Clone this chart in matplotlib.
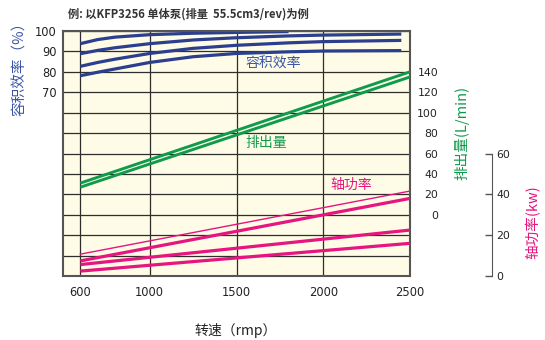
import matplotlib
matplotlib.use("Agg")
import matplotlib.pyplot as plt

plt.rcParams['font.family'] = ['DejaVu Sans', 'Noto Sans CJK SC']
CJK = ['Noto Sans CJK SC', 'DejaVu Sans']

# volumetric efficiency curves (%)
eff_rpm_a = [600, 700, 800, 1000, 1250, 1500, 1800]
eff_a = [93.8, 95.8, 97.0, 98.2, 98.9, 99.3, 99.7]
eff_rpm = [600, 700, 800, 1000, 1250, 1500, 1800, 2000, 2450]
eff_b = [88.9, 90.5, 91.8, 93.8, 95.6, 96.7, 97.6, 98.0, 98.5]
eff_c = [82.7, 84.6, 86.2, 89.0, 91.5, 93.0, 94.2, 94.8, 95.4]
eff_d = [78.1, 79.8, 81.4, 84.6, 87.4, 89.0, 89.8, 90.2, 90.4]

# flow (L/min)
flow_rpm = [600, 2500]
flow_hi = [31, 140]
flow_lo = [27, 135]

# shaft power (kW)
pow_rpm = [600, 2500]
pow_thin = [10.7, 41.6]
pow_1 = [7.4, 38.0]
pow_2 = [5.6, 22.5]
pow_3 = [2.4, 16.0]

x_ticks = [600, 1000, 1500, 2000, 2500]
eff_ticks = [70, 80, 90, 100]
flow_ticks = [0, 20, 40, 60, 80, 100, 120, 140]
pow_ticks = [0, 20, 40, 60]

blue = '#2b3f8e'
blue_txt = '#3b55a5'
green = '#0f9a4c'
pink = '#e6157f'

fig = plt.figure(figsize=(5.45, 3.4), dpi=100)
ax = fig.add_axes([63/545, 1-276/340, 347/545, 245/340])
ax.set_facecolor('#fefbe6')
ax.set_xlim(500, 2500)
ax.set_ylim(-20, 100)

ax.set_xticks(x_ticks)
ax.set_yticks(range(-20, 101, 10))
ax.set_yticklabels([str(v) if v in eff_ticks else '' for v in range(-20, 101, 10)])
ax.tick_params(length=0, labelsize=8.3, colors='#222222')
ax.tick_params(axis='y', pad=4.5)
ax.tick_params(axis='x', pad=7.5)
ax.grid(True, color='#2e2e2e', lw=0.9)
ax.set_axisbelow(True)
for s in ax.spines.values():
    s.set_color('#555555')
    s.set_linewidth(1.5)

# efficiency
ax.plot(eff_rpm_a, eff_a, color=blue, lw=2.3, solid_capstyle='butt')
for ys in (eff_b, eff_c, eff_d):
    ax.plot(eff_rpm, ys, color=blue, lw=2.3, solid_capstyle='butt')

# flow on its own scale
ax2 = ax.twinx()
ax2.set_ylim(-60, 180)
ax2.set_yticks(flow_ticks)
ax2.tick_params(length=0, labelsize=7.8, colors='#222222', pad=20.2)
for lab in ax2.get_yticklabels():
    lab.set_horizontalalignment('right')
for s in ax2.spines.values():
    s.set_visible(False)
ax2.plot(flow_rpm, flow_hi, color=green, lw=2.1, solid_capstyle='butt')
ax2.plot(flow_rpm, flow_lo, color=green, lw=2.1, solid_capstyle='butt')

# power on its own scale
ax3 = ax.twinx()
ax3.set_ylim(0, 120)
ax3.set_yticks(pow_ticks)
for s in ax3.spines.values():
    s.set_visible(False)
ax3.spines['right'].set_visible(True)
ax3.spines['right'].set_position(('axes', 1.236))
ax3.spines['right'].set_bounds(0, 60)
ax3.spines['right'].set_color('#555555')
ax3.tick_params(direction='in', length=5, width=1, color='#555555',
                labelsize=7.8, labelcolor='#222222', pad=3)
ax3.plot(pow_rpm, pow_thin, color=pink, lw=1.0)
for ys in (pow_1, pow_2, pow_3):
    ax3.plot(pow_rpm, ys, color=pink, lw=2.3, solid_capstyle='butt')

# labels in the plot
ax.text(1714, 84.0, '容积效率', color=blue_txt, fontsize=10, family=CJK,
        ha='center', va='center')
ax.text(1671, 45, '排出量', color=green, fontsize=10, family=CJK,
        ha='center', va='center')
ax.text(2160, 24.5, '轴功率', color=pink, fontsize=10, family=CJK,
        ha='center', va='center')

fig.text(20/545, 1-65/340, '容积效率（%）', color=blue_txt, fontsize=10.5,
         family=CJK, rotation=90, ha='center', va='center')
fig.text(462/545, 1-133/340, '排出量(L/min)', color=green, fontsize=10.5,
         family=CJK, rotation=90, ha='center', va='center')
fig.text(533/545, 1-222/340, '轴功率(kw)', color=pink, fontsize=10.5,
         family=CJK, rotation=90, ha='center', va='center')
fig.text(236/545, 1-331/340, '转速（rmp）', color='#222222', fontsize=10,
         family=CJK, ha='center', va='center')
fig.text(68/545, 1-14/340, '例: 以KFP3256 单体泵(排量  55.5cm3/rev)为例',
         color='#333333', fontsize=8.1, family=CJK, fontweight='bold',
         ha='left', va='center')

fig.savefig('out.png', dpi=100)
